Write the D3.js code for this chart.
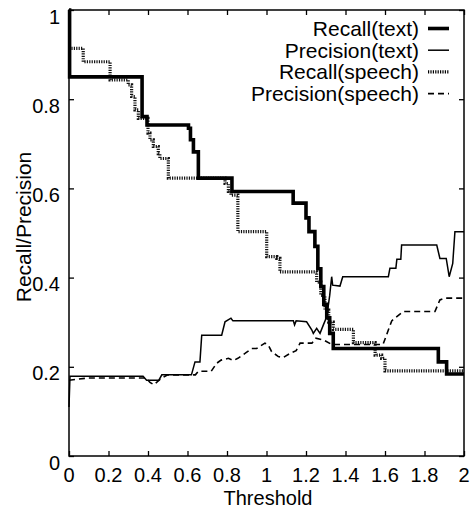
<!DOCTYPE html>
<html><head><meta charset="utf-8">
<script src="https://cdn.jsdelivr.net/npm/d3@7"></script>
<style>
body{margin:0;background:#fff}
svg{display:block}
text{font-family:"Liberation Sans",Arial,Helvetica,sans-serif;fill:#000}
</style>
</head><body>
<svg id="c" width="473" height="508"></svg>
<script>
// ---- data ----
const xTickValues = [0, 0.2, 0.4, 0.6, 0.8, 1, 1.2, 1.4, 1.6, 1.8, 2];
const xTickLabels = ["0", "0.2", "0.4", "0.6", "0.8", "1", "1.2", "1.4", "1.6", "1.8", "2"];
const yTickValues = [0, 0.2, 0.4, 0.6, 0.8, 1];
const yTickLabels = ["0", "0.2", "0.4", "0.6", "0.8", "1"];
const seriesNames = ["Recall(text)", "Precision(text)", "Recall(speech)", "Precision(speech)"];

const recallText = [[0,1],[0.003,0.85],[0.37,0.761],[0.395,0.742],[0.605,0.735],[0.615,0.709],[0.63,0.682],[0.655,0.623],[0.825,0.593],[1.135,0.567],[1.2,0.534],[1.215,0.503],[1.245,0.47],[1.26,0.42],[1.275,0.38],[1.29,0.34],[1.305,0.31],[1.32,0.275],[1.338,0.241],[1.87,0.211],[1.912,0.184],[2,0.184]];

const precisionText = [[0,0.11],[0.005,0.179],[0.375,0.179],[0.393,0.170],[0.455,0.170],[0.47,0.182],[0.62,0.182],[0.638,0.211],[0.663,0.211],[0.672,0.271],[0.773,0.271],[0.79,0.301],[0.82,0.309],[0.83,0.303],[1.136,0.303],[1.142,0.294],[1.15,0.303],[1.203,0.301],[1.229,0.283],[1.237,0.275],[1.254,0.286],[1.271,0.275],[1.288,0.294],[1.305,0.312],[1.32,0.36],[1.33,0.402],[1.335,0.383],[1.372,0.381],[1.386,0.402],[1.617,0.402],[1.625,0.421],[1.655,0.421],[1.66,0.441],[1.68,0.441],[1.684,0.473],[1.862,0.473],[1.878,0.443],[1.91,0.443],[1.925,0.402],[1.943,0.432],[1.954,0.503],[2,0.503]];

const recallSpeech = [[0,0.914],[0.072,0.884],[0.208,0.843],[0.30,0.832],[0.317,0.806],[0.334,0.776],[0.351,0.757],[0.40,0.724],[0.41,0.709],[0.427,0.694],[0.452,0.678],[0.46,0.667],[0.503,0.623],[0.79,0.611],[0.807,0.593],[0.82,0.585],[0.855,0.503],[1.001,0.447],[1.052,0.443],[1.068,0.413],[1.254,0.39],[1.275,0.36],[1.296,0.327],[1.315,0.30],[1.338,0.284],[1.44,0.254],[1.55,0.226],[1.583,0.219],[1.60,0.191],[2,0.191]];

const precisionSpeech = [[0,0.17],[0.1,0.175],[0.39,0.175],[0.41,0.165],[0.43,0.16],[0.47,0.175],[0.5,0.182],[0.64,0.182],[0.655,0.19],[0.72,0.19],[0.748,0.208],[0.77,0.215],[0.807,0.219],[0.832,0.214],[0.855,0.219],[0.891,0.230],[0.925,0.241],[0.95,0.241],[0.992,0.253],[1.009,0.249],[1.026,0.234],[1.06,0.223],[1.085,0.221],[1.119,0.230],[1.15,0.236],[1.17,0.253],[1.23,0.253],[1.25,0.264],[1.29,0.26],[1.33,0.25],[1.59,0.25],[1.634,0.303],[1.693,0.324],[1.853,0.324],[1.878,0.35],[1.90,0.354],[2,0.354]];

// ---- layout ----
const L = 69, R = 464, T = 10, B = 456;
const svg = d3.select("#c");
const x = d3.scaleLinear().domain([0, 2]).range([L, R]);
const y = d3.scaleLinear().domain([0, 1]).range([B, T]);

// frame
svg.append("rect").attr("x", L).attr("y", T).attr("width", R - L).attr("height", B - T)
  .attr("fill", "none").attr("stroke", "#000").attr("stroke-width", 1.5);

// inward ticks on all sides using axes
const tl = 5;
const tidy = g => { g.select(".domain").remove(); g.selectAll("line").attr("stroke-width", 1.3); };
svg.append("g").attr("transform", `translate(0,${B})`)
  .call(d3.axisTop(x).tickValues(xTickValues).tickSize(tl).tickFormat("")).call(tidy);
svg.append("g").attr("transform", `translate(0,${T})`)
  .call(d3.axisBottom(x).tickValues(xTickValues).tickSize(tl).tickFormat("")).call(tidy);
svg.append("g").attr("transform", `translate(${L},0)`)
  .call(d3.axisRight(y).tickValues(yTickValues).tickSize(tl).tickFormat("")).call(tidy);
svg.append("g").attr("transform", `translate(${R},0)`)
  .call(d3.axisLeft(y).tickValues(yTickValues).tickSize(tl).tickFormat("")).call(tidy);

// tick labels
svg.append("g").selectAll("text").data(xTickValues).join("text")
  .attr("x", d => x(d)).attr("y", 482).attr("text-anchor", "middle")
  .style("font-size", "20px").text((d, i) => xTickLabels[i]);
svg.append("g").selectAll("text").data(yTickValues).join("text")
  .attr("x", 60).attr("y", d => y(d) + 13.5).attr("text-anchor", "end")
  .style("font-size", "20px").text((d, i) => yTickLabels[i]);

// titles
svg.append("text").attr("x", 268).attr("y", 505).attr("text-anchor", "middle")
  .style("font-size", "20px").text("Threshold");
svg.append("text").attr("transform", "translate(31,227) rotate(-90)").attr("text-anchor", "middle")
  .style("font-size", "21px").text("Recall/Precision");

// lines
const stepLine = d3.line().x(d => x(d[0])).y(d => y(d[1])).curve(d3.curveStepAfter);
const linLine = d3.line().x(d => x(d[0])).y(d => y(d[1]));

const styles = [
  {w: 3.6, dash: null},
  {w: 1.5, dash: null},
  {w: 3.2, dash: "1.2,1.2"},
  {w: 1.6, dash: "6,4"}
];

const plot = svg.append("g");
plot.append("path").attr("d", linLine(precisionSpeech)).attr("fill", "none")
  .attr("stroke", "#000").attr("stroke-width", styles[3].w).attr("stroke-dasharray", styles[3].dash);
plot.append("path").attr("d", linLine(precisionText)).attr("fill", "none")
  .attr("stroke", "#000").attr("stroke-width", styles[1].w);
plot.append("path").attr("d", stepLine(recallSpeech)).attr("fill", "none")
  .attr("stroke", "#111").attr("stroke-width", styles[2].w).attr("stroke-dasharray", styles[2].dash);
plot.append("path").attr("d", stepLine(recallText)).attr("fill", "none")
  .attr("stroke", "#000").attr("stroke-width", styles[0].w);

// legend
const legY = [36, 57.7, 79.4, 101.1];
const leg = svg.append("g");
seriesNames.forEach((name, i) => {
  leg.append("text").attr("x", 419).attr("y", legY[i]).attr("text-anchor", "end")
    .style("font-size", "21px").text(name);
  leg.append("line").attr("x1", 428).attr("x2", 449).attr("y1", legY[i] - 7.5).attr("y2", legY[i] - 7.5)
    .attr("stroke", "#000").attr("stroke-width", styles[i].w).attr("stroke-dasharray", styles[i].dash);
});
</script>
</body></html>
